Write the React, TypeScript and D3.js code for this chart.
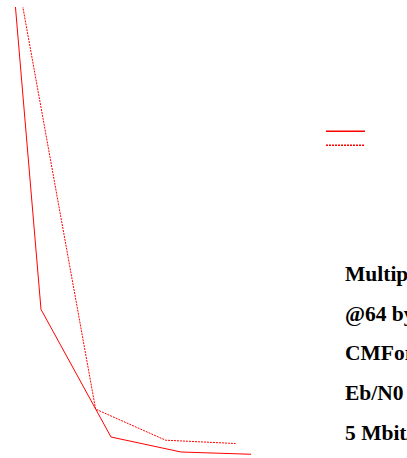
import React from "react";
import * as d3 from "d3";

const W = 407;
const H = 458;

// Eb/N0 (dB) and error-rate values for the two curves
const solidX = [1, 2, 3, 4, 5];
const solidY = [5.6e-2, 5.9e-6, 1.44e-6, 1.22e-6, 1.19e-6];
const dashedX = [0.78, 1.78, 2.78, 3.78, 4.78];
const dashedY = [1.0e-2, 1.41e-4, 1.96e-6, 1.39e-6, 1.34e-6];

const infoLines = ["Multipath channel", "@64 bytes/packet", "CMFormat", "Eb/N0 = 10 dB", "5 Mbit/s"];

export default function App() {
  const x = d3.scaleLinear().domain([0, 5]).range([-99, 251]);
  const y = d3.scaleLog().domain([1e-6, 1]).range([470, -780]);

  const line = d3
    .line<[number, number]>()
    .x((d) => x(d[0]))
    .y((d) => y(d[1]));

  const solid = solidX.map((v, i) => [v, solidY[i]] as [number, number]);
  const dashed = dashedX.map((v, i) => [v, dashedY[i]] as [number, number]);

  const textY = d3.scaleLinear().domain([0, 4]).range([281, 439.5]);

  return (
    <svg
      width={W}
      height={H}
      style={{ position: "fixed", left: 0, top: 0, background: "#fff" }}
    >
      <defs>
        <clipPath id="plot">
          <rect x={0} y={7} width={W} height={H - 7} />
        </clipPath>
      </defs>
      <g clipPath="url(#plot)">
        <path d={line(solid) || ""} fill="none" stroke="#ff0000" strokeWidth={1} />
        <path d={line(dashed) || ""} fill="none" stroke="#ff0000" strokeWidth={1} strokeDasharray="2,1" />
      </g>
      <path d="M326,131.3H365" stroke="#ff0000" strokeWidth={1.5} />
      <path d="M326,145.3H365" stroke="#ff0000" strokeWidth={1.5} strokeDasharray="2,1" />
      <g fontFamily="'Liberation Serif', 'Times New Roman', serif" fontWeight="bold" fontSize={21.5} fill="#000">
        {infoLines.map((t, i) => (
          <text key={i} x={345} y={textY(i)}>
            {t}
          </text>
        ))}
      </g>
    </svg>
  );
}
